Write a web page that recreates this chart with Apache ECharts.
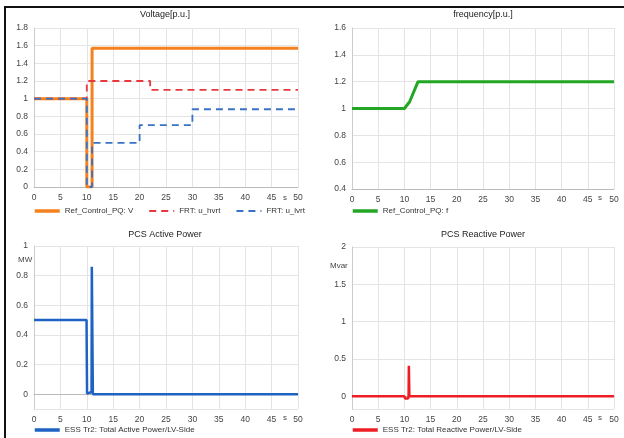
<!DOCTYPE html>
<html><head><meta charset="utf-8">
<script src="https://cdn.jsdelivr.net/npm/echarts@6/dist/echarts.min.js"></script>
<style>html,body{margin:0;padding:0;background:#fff}#c{width:624px;height:438px}</style>
</head><body><div id="c"></div>
<script>
// ---- data ----
const titles = ['Voltage[p.u.]', 'frequency[p.u.]', 'PCS Active Power', 'PCS Reactive Power'];
const xTicks = [0, 5, 10, 15, 20, 25, 30, 35, 40, 45, 50];
const vT = [0, 10, 10, 11, 11, 50];
const vY = [1, 1, 0, 0, 1.57, 1.57];
const hvrtT = [0, 10, 10, 22, 22, 50];
const hvrtY = [1, 1, 1.2, 1.2, 1.1, 1.1];
const lvrtT = [0, 10, 10, 11, 11, 20, 20, 30, 30, 50];
const lvrtY = [1, 1, 0, 0, 0.5, 0.5, 0.7, 0.7, 0.88, 0.88];
const fT = [0, 10, 11, 12.6, 50];
const fY = [1, 1, 1.05, 1.2, 1.2];
const pT = [0, 9.95, 10.05, 10.5, 10.9, 10.95, 11.05, 11.15, 50];
const pY = [0.5, 0.5, 0.005, 0.01, 0.015, 0.86, 0.86, 0, 0];
const qT = [0, 10, 10.15, 10.7, 10.8, 10.85, 10.9, 10.95, 50];
const qY = [0, 0, -0.03, -0.03, 0, 0.41, 0.41, 0, 0];
const yRanges = [[0, 1.8], [0.4, 1.6], [-0.1, 1], [-0.17, 2]];
const names = ['Ref_Control_PQ: V', 'FRT: u_hvrt', 'FRT: u_lvrt', 'Ref_Control_PQ: f',
  'ESS Tr2: Total Active Power/LV-Side', 'ESS Tr2: Total Reactive Power/LV-Side'];

const zip = (a, b) => a.map((t, i) => [t, b[i]]);
const FONT = 'Liberation Sans, Arial, sans-serif';
const grids = [
  {left: 34, top: 28, width: 264, height: 159},
  {left: 352, top: 28, width: 262, height: 161},
  {left: 34, top: 246, width: 264, height: 163},
  {left: 352, top: 247, width: 262, height: 162}
];
const xAxes = grids.map((g, i) => ({
  type: 'value', gridIndex: i, min: 0, max: 50, interval: 5,
  axisLine: {show: true, lineStyle: {color: '#bbb'}},
  axisTick: {show: false},
  axisLabel: {color: '#444', fontSize: 8.5, fontFamily: FONT, margin: 6},
  splitLine: {show: true, lineStyle: {color: '#e4e4e4'}}
}));
const yAxes = grids.map((g, i) => ({
  type: 'value', gridIndex: i, min: yRanges[i][0], max: yRanges[i][1],
  splitNumber: i < 2 ? 6 : 5,
  axisLine: {show: true, lineStyle: {color: '#ccc'}},
  axisTick: {show: false},
  axisLabel: {color: '#444', fontSize: 8.5, fontFamily: FONT, margin: 6,
    showMinLabel: i < 2, formatter: v => String(+v.toFixed(2))},
  splitLine: {show: true, lineStyle: {color: '#e4e4e4'}}
}));
yAxes[0].interval = 0.2; yAxes[1].interval = 0.2;

const mk = (name, t, y, gi, color, w, dash, z) => ({
  name, type: 'line', xAxisIndex: gi, yAxisIndex: gi, data: zip(t, y),
  symbol: 'none', animation: false, z: z || 2,
  lineStyle: {color, width: w, type: dash || 'solid'}, itemStyle: {color}
});
const series = [
  mk(names[0], vT, vY, 0, '#F5801E', 3),
  mk(names[1], hvrtT, hvrtY, 0, '#E8373F', 1.8, [7, 5], 3),
  mk(names[2], lvrtT, lvrtY, 0, '#3A72C4', 1.8, [7, 5], 4),
  mk(names[3], fT, fY, 1, '#23A623', 3),
  mk(names[4], pT, pY, 2, '#1E62C4', 2.5),
  mk(names[5], qT, qY, 3, '#EE1D24', 2.5)
];
const legItem = (n, w) => ({name: n, lineStyle: {width: w}});
const legendBase = {itemWidth: 25, itemHeight: 10, itemGap: 15,
  itemStyle: {opacity: 0},
  textStyle: {fontSize: 8, color: '#333', fontFamily: FONT}, padding: 0};
const legends = [
  Object.assign({}, legendBase, {left: 33, top: 207,
    data: [legItem(names[0], 3.5), legItem(names[1], 2), legItem(names[2], 2)]}),
  Object.assign({}, legendBase, {left: 351, top: 207, data: [legItem(names[3], 3.5)]}),
  Object.assign({}, legendBase, {left: 33, top: 426, data: [legItem(names[4], 3.5)]}),
  Object.assign({}, legendBase, {left: 351, top: 426, data: [legItem(names[5], 3.5)]})
];
const titleCenters = [[165, 10], [483, 10], [165, 230], [483, 230]];
const titleOpts = titles.map((t, i) => ({
  text: t, left: titleCenters[i][0], top: titleCenters[i][1], textAlign: 'center',
  textStyle: {fontSize: 9, fontWeight: 'normal', color: '#222', fontFamily: FONT}, padding: 0
}));
const txt = (x, y, s) => ({type: 'text', left: x, top: y, silent: true,
  style: {text: s, fontSize: 8, fill: '#444', fontFamily: FONT}});
const chart = echarts.init(document.getElementById('c'), null, {renderer: 'canvas'});
chart.setOption({
  animation: false,
  title: titleOpts,
  grid: grids,
  xAxis: xAxes,
  yAxis: yAxes,
  legend: legends,
  series,
  graphic: [
    {type: 'line', shape: {x1: 5, y1: 7, x2: 624, y2: 7}, style: {stroke: '#111', lineWidth: 2}},
    {type: 'line', shape: {x1: 5, y1: 6, x2: 5, y2: 438}, style: {stroke: '#111', lineWidth: 2}},
    txt(283, 194, 's'), txt(598, 194, 's'), txt(283, 414, 's'), txt(598, 414, 's'),
    txt(18, 256, 'MW'), txt(330, 262, 'Mvar')
  ]
});
</script></body></html>
